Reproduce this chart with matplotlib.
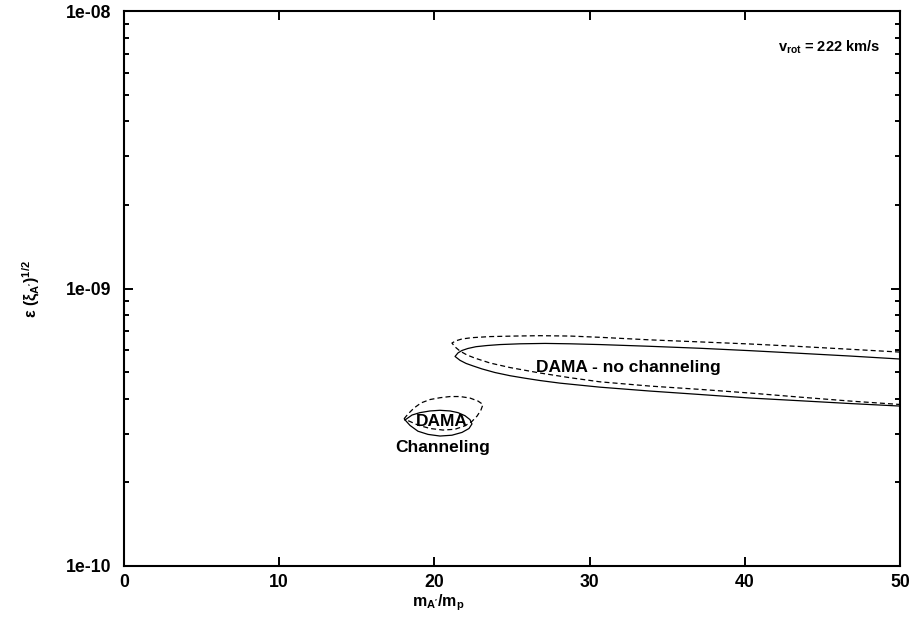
import matplotlib
matplotlib.use("Agg")
import matplotlib.pyplot as plt
from matplotlib.ticker import LogLocator, NullFormatter, FixedLocator

plt.rcParams['font.family'] = ['Liberation Sans', 'DejaVu Sans']
plt.rcParams['mathtext.fontset'] = 'custom'
plt.rcParams['mathtext.rm'] = 'Liberation Sans:bold'
plt.rcParams['mathtext.it'] = 'Liberation Sans:bold'
plt.rcParams['mathtext.bf'] = 'Liberation Sans:bold'

# DAMA - no channeling, solid (upper branch right->tip, lower branch tip->right)
nochan_solid_x = [50, 46.78, 43.56, 40.34, 37.11, 33.89, 30.67, 28.74, 27.13, 25.52, 24.23, 23.39, 22.68,
                  22.16, 21.78, 21.52, 21.33,
                  21.65, 22.04, 22.49, 23.07, 23.90, 24.87, 25.84, 26.80, 28.09, 30.67, 33.89, 37.11,
                  40.34, 43.56, 46.78, 50]
nochan_solid_y = [5.57e-10, 5.71e-10, 5.84e-10, 5.97e-10, 6.09e-10, 6.19e-10, 6.28e-10, 6.32e-10, 6.34e-10,
                  6.32e-10, 6.28e-10, 6.23e-10, 6.17e-10, 6.08e-10, 5.98e-10, 5.86e-10, 5.69e-10,
                  5.51e-10, 5.37e-10, 5.26e-10, 5.13e-10, 4.98e-10, 4.85e-10, 4.75e-10, 4.66e-10, 4.56e-10,
                  4.41e-10, 4.27e-10, 4.15e-10, 4.03e-10, 3.94e-10, 3.85e-10, 3.77e-10]

# DAMA - no channeling, dashed
nochan_dash_x = [50, 46.78, 43.56, 40.34, 37.11, 33.89, 30.67, 28.74, 26.80, 25.19, 23.58, 22.42, 21.78,
                 21.39, 21.13,
                 21.33, 21.65, 22.10, 22.62, 23.58, 24.87, 26.80, 28.74, 30.67, 33.89, 37.11, 40.34,
                 43.56, 46.78, 50]
nochan_dash_y = [5.90e-10, 6.04e-10, 6.18e-10, 6.31e-10, 6.42e-10, 6.53e-10, 6.67e-10, 6.74e-10, 6.76e-10,
                 6.74e-10, 6.71e-10, 6.65e-10, 6.58e-10, 6.48e-10, 6.36e-10,
                 6.16e-10, 5.95e-10, 5.76e-10, 5.61e-10, 5.39e-10, 5.19e-10, 4.96e-10, 4.77e-10, 4.61e-10,
                 4.45e-10, 4.33e-10, 4.20e-10, 4.06e-10, 3.93e-10, 3.82e-10]

# DAMA channeling, solid (closed)
chan_solid_x = [18.11, 18.56, 19.07, 19.72, 20.36, 21.01, 21.52, 21.97, 22.29, 22.42, 22.23, 21.78,
                21.13, 20.36, 19.59, 18.94, 18.43, 18.11]
chan_solid_y = [3.36e-10, 3.50e-10, 3.57e-10, 3.62e-10, 3.64e-10, 3.62e-10, 3.57e-10, 3.48e-10, 3.37e-10,
                3.25e-10, 3.13e-10, 3.03e-10, 2.96e-10, 2.94e-10, 2.98e-10, 3.06e-10, 3.21e-10, 3.36e-10]

# DAMA channeling, dashed (closed)
chan_dash_x = [18.04, 18.30, 18.69, 19.14, 19.72, 20.36, 21.01, 21.65, 22.29, 22.81, 23.13, 23.0, 22.75,
               22.42, 21.97, 21.33, 20.55, 19.72, 18.94, 18.36, 18.04]
chan_dash_y = [3.39e-10, 3.53e-10, 3.71e-10, 3.87e-10, 3.98e-10, 4.04e-10, 4.08e-10, 4.08e-10, 4.03e-10,
               3.93e-10, 3.82e-10, 3.65e-10, 3.47e-10, 3.32e-10, 3.20e-10, 3.11e-10, 3.09e-10, 3.13e-10,
               3.22e-10, 3.33e-10, 3.39e-10]

x_ticks = [0, 10, 20, 30, 40, 50]
y_ticks = [1e-10, 1e-9, 1e-8]
y_tick_labels = ['1e-10', '1e-09', '1e-08']

fig = plt.figure(figsize=(9.17, 6.31), dpi=100)
ax = fig.add_axes([124 / 917, 65 / 631, 776 / 917, 555 / 631])

ax.plot(nochan_solid_x, nochan_solid_y, color='black', lw=0.9)
ax.plot(nochan_dash_x, nochan_dash_y, color='black', lw=0.9, ls=(0, (4, 2.5)))
ax.plot(chan_solid_x, chan_solid_y, color='black', lw=0.9)
ax.plot(chan_dash_x, chan_dash_y, color='black', lw=0.9, ls=(0, (4, 2.5)))

ax.set_yscale('log')
ax.set_xlim(0, 50)
ax.set_ylim(1e-10, 1e-8)
ax.xaxis.set_major_locator(FixedLocator(x_ticks))
ax.set_yticks(y_ticks)
ax.set_yticklabels(y_tick_labels)
ax.yaxis.set_minor_locator(LogLocator(base=10, subs=range(2, 10)))
ax.yaxis.set_minor_formatter(NullFormatter())

ax.tick_params(which='both', direction='in', top=True, right=True, labelsize=12.7, width=1.4)
ax.tick_params(which='major', length=6.5, pad=6)
ax.tick_params(axis='y', which='major', pad=9)
ax.tick_params(which='minor', length=3.6)
for lab in ax.get_xticklabels() + ax.get_yticklabels():
    lab.set_fontweight('bold')
for sp in ax.spines.values():
    sp.set_linewidth(1.5)

ax.text(32.5, 5.2e-10, 'DAMA - no channeling', fontsize=12.5, fontweight='bold', ha='center', va='center')
ax.text(20.5, 3.31e-10, 'DAMA', fontsize=12.5, fontweight='bold', ha='center', va='center')
ax.text(20.55, 2.67e-10, 'Channeling', fontsize=12.5, fontweight='bold', ha='center', va='center')
ax.text(48.7, 7.4e-9, r'v$_{\rm rot}$ = 222 km/s', fontsize=10.5, fontweight='bold', ha='right', va='center')

ax.set_xlabel(r"m$_{\rm A'}$/m$_{\rm p}$", fontsize=11.5, fontweight='bold')
ax.set_ylabel(r"ε (ξ$_{\rm A'}$)$^{\rm 1/2}$", fontsize=11.5, fontweight='bold')
ax.xaxis.set_label_coords(0.405, -0.047)
ax.yaxis.set_label_coords(-0.106, 0.5)

fig.savefig('out.png', dpi=100)
